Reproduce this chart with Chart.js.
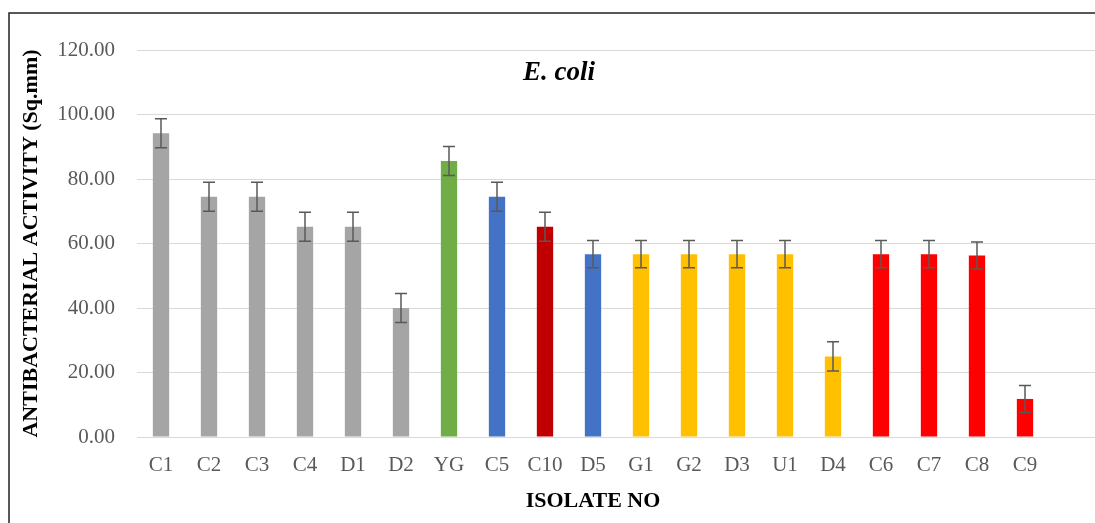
<!DOCTYPE html>
<html>
<head>
<meta charset="utf-8">
<script src="https://cdn.jsdelivr.net/npm/chart.js@4"></script>
<style>
  html, body { margin: 0; padding: 0; background: #fff; }
  #wrap { width: 1095px; height: 523px; position: relative; }
</style>
</head>
<body>
<div id="wrap"><canvas id="ecoliChart"></canvas></div>
<script>
// data
const isolates = ['C1', 'C2', 'C3', 'C4', 'D1', 'D2', 'YG', 'C5', 'C10', 'D5',
                  'G1', 'G2', 'D3', 'U1', 'D4', 'C6', 'C7', 'C8', 'C9'];
const activity = [94.2, 74.5, 74.5, 65.2, 65.2, 40.0, 85.6, 74.5, 65.2, 56.7,
                  56.7, 56.7, 56.7, 56.7, 25.0, 56.7, 56.7, 56.3, 11.8];
const errorVals = [4.5, 4.5, 4.5, 4.5, 4.5, 4.5, 4.5, 4.5, 4.5, 4.2,
                   4.2, 4.2, 4.2, 4.2, 4.5, 4.2, 4.2, 4.2, 4.2];
const barColors = ['#A5A5A5', '#A5A5A5', '#A5A5A5', '#A5A5A5', '#A5A5A5', '#A5A5A5',
                   '#70AD47', '#4472C4', '#C00000', '#4472C4',
                   '#FFC000', '#FFC000', '#FFC000', '#FFC000', '#FFC000',
                   '#FF0000', '#FF0000', '#FF0000', '#FF0000'];
const yTicks = [0, 20, 40, 60, 80, 100, 120];

const serif = "'Liberation Serif', 'Times New Roman', serif";

// error bars drawn from the y scale
const errorBars = {
  id: 'errorBars',
  afterDatasetsDraw(chart) {
    const ctx = chart.ctx;
    const yScale = chart.scales.y;
    const meta = chart.getDatasetMeta(0);
    ctx.save();
    ctx.strokeStyle = '#595959';
    ctx.lineWidth = 1.5;
    meta.data.forEach(function(bar, i) {
      const top = yScale.getPixelForValue(activity[i] + errorVals[i]);
      const bot = yScale.getPixelForValue(activity[i] - errorVals[i]);
      ctx.beginPath();
      ctx.moveTo(bar.x, top); ctx.lineTo(bar.x, bot);
      ctx.moveTo(bar.x - 6, top); ctx.lineTo(bar.x + 6, top);
      ctx.moveTo(bar.x - 6, bot); ctx.lineTo(bar.x + 6, bot);
      ctx.stroke();
    });
    ctx.restore();
  }
};

// gridlines run on to the right edge, frame lines, inner title
const decorations = {
  id: 'decorations',
  beforeDatasetsDraw(chart) {
    const ctx = chart.ctx;
    const area = chart.chartArea;
    const yScale = chart.scales.y;
    ctx.save();
    ctx.strokeStyle = '#D9D9D9';
    ctx.lineWidth = 1;
    yTicks.forEach(function(v) {
      // same pixel alignment chart.js uses for 1px grid lines
      const y = Math.round(yScale.getPixelForValue(v) - 0.5) + 0.5;
      ctx.beginPath();
      ctx.moveTo(area.right - 1, y);
      ctx.lineTo(chart.width, y);
      ctx.stroke();
    });
    ctx.restore();
  },
  afterDraw(chart) {
    const ctx = chart.ctx;
    ctx.save();
    ctx.strokeStyle = '#222';
    ctx.lineWidth = 1.5;
    ctx.beginPath();
    ctx.moveTo(chart.width, 13);
    ctx.lineTo(9, 13);
    ctx.lineTo(9, chart.height);
    ctx.stroke();
    ctx.fillStyle = '#000';
    ctx.font = 'italic bold 27px ' + serif;
    ctx.textAlign = 'center';
    ctx.textBaseline = 'middle';
    ctx.fillText('E. coli', 559, 73);
    ctx.restore();
  }
};

new Chart(document.getElementById('ecoliChart'), {
  type: 'bar',
  data: {
    labels: isolates,
    datasets: [{
      data: activity,
      backgroundColor: barColors,
      borderWidth: 0,
      categoryPercentage: 1,
      barPercentage: 0.34
    }]
  },
  options: {
    responsive: true,
    maintainAspectRatio: false,
    animation: false,
    layout: { padding: { left: 10, right: 46, top: 50, bottom: 0 } },
    plugins: {
      legend: { display: false },
      tooltip: { enabled: false }
    },
    scales: {
      y: {
        min: 0,
        max: 120,
        afterFit: function(scale) { scale.width = 127; },
        afterBuildTicks: function(scale) {
          scale.ticks = yTicks.map(function(v) { return { value: v }; });
        },
        ticks: {
          color: '#595959',
          font: { family: serif, size: 21 },
          padding: 22,
          callback: function(value) { return value.toFixed(2); }
        },
        grid: { color: '#D9D9D9', drawTicks: false },
        border: { display: false },
        title: {
          display: true,
          text: 'ANTIBACTERIAL ACTIVITY (Sq.mm)',
          color: '#000',
          font: { family: serif, size: 22, weight: 'bold' },
          padding: { top: 8, bottom: 0 }
        }
      },
      x: {
        afterFit: function(scale) { scale.height = 86; },
        ticks: {
          color: '#595959',
          font: { family: serif, size: 21 },
          padding: 16,
          maxRotation: 0,
          autoSkip: false
        },
        grid: { display: false, drawTicks: false },
        border: { color: '#D9D9D9', width: 1 },
        title: {
          display: true,
          text: 'ISOLATE NO',
          color: '#000',
          font: { family: serif, size: 22, weight: 'bold' },
          padding: { top: 0, bottom: 8 }
        }
      }
    }
  },
  plugins: [decorations, errorBars]
});
</script>
</body>
</html>
